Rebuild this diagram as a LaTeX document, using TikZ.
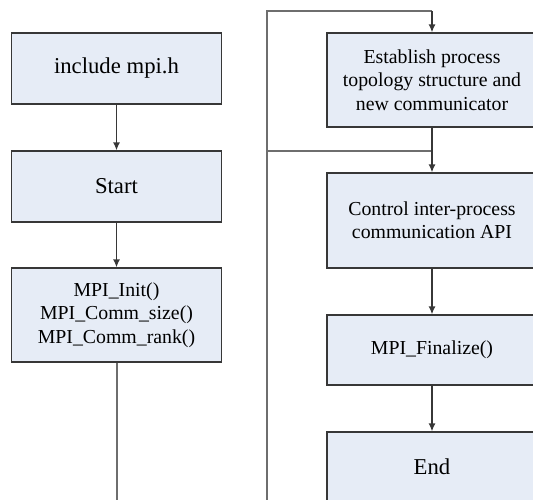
\documentclass[tikz,border=0pt]{standalone}
\usepackage{fontspec}
\setmainfont{Liberation Serif}
\usetikzlibrary{arrows.meta}
\definecolor{boxfill}{RGB}{230,236,246}
\definecolor{boxline}{RGB}{55,55,55}
\definecolor{wiregray}{RGB}{110,110,110}

\begin{document}
\begin{tikzpicture}[x=1pt,y=-1pt,
  blk/.style={draw=boxline,fill=boxfill,line width=1.3pt,minimum width=210pt,align=center,inner sep=0pt},
  big/.style={blk,font=\fontsize{22.7}{27}\selectfont},
  small/.style={blk,font=\fontsize{19.8}{23.3}\selectfont},
  flow/.style={draw=boxline,line width=1.3pt,-{Latex[length=8pt,width=7pt]}},
  wire/.style={draw=wiregray,line width=2pt}]
  \useasboundingbox (0,0) rectangle (533,499);
  \clip (0,0) rectangle (533,499);
  % left column
  \node[big,minimum height=71pt] (inc) at (116.5,68.5) {include mpi.h};
  \node[big,minimum height=71pt] (start) at (116.5,186.5) {Start};
  \node[small,minimum height=94pt] (init) at (116.5,315) {MPI\_Init()\\MPI\_Comm\_size()\\MPI\_Comm\_rank()};
  % right column
  \node[small,minimum height=94pt] (est) at (432,80) {Establish process\\topology structure and\\new communicator};
  \node[small,minimum height=95pt] (ctrl) at (432,220.5) {Control inter-process\\communication API};
  \node[small,minimum height=70pt] (fin) at (432,350) {MPI\_Finalize()};
  \node[big,minimum height=70pt] (end) at (432,467) {End};
  \coordinate (lowL) at (116.5,505);
  \coordinate (lowR) at (267,505);
  \coordinate (join) at (267,151);
  \draw[flow] (inc) -- (start);
  \draw[flow] (start) -- (init);
  \draw[wire] (init) -- (lowL);
  \draw[wire] (lowR) -- (267,11) -- (432,11);
  \draw[flow] (432,11) -- (est);
  \draw[wire] (join) -- (join -| est.south);
  \draw[flow] (est) -- (ctrl);
  \draw[flow] (ctrl) -- (fin);
  \draw[flow] (fin) -- (end);
\end{tikzpicture}
\end{document}
